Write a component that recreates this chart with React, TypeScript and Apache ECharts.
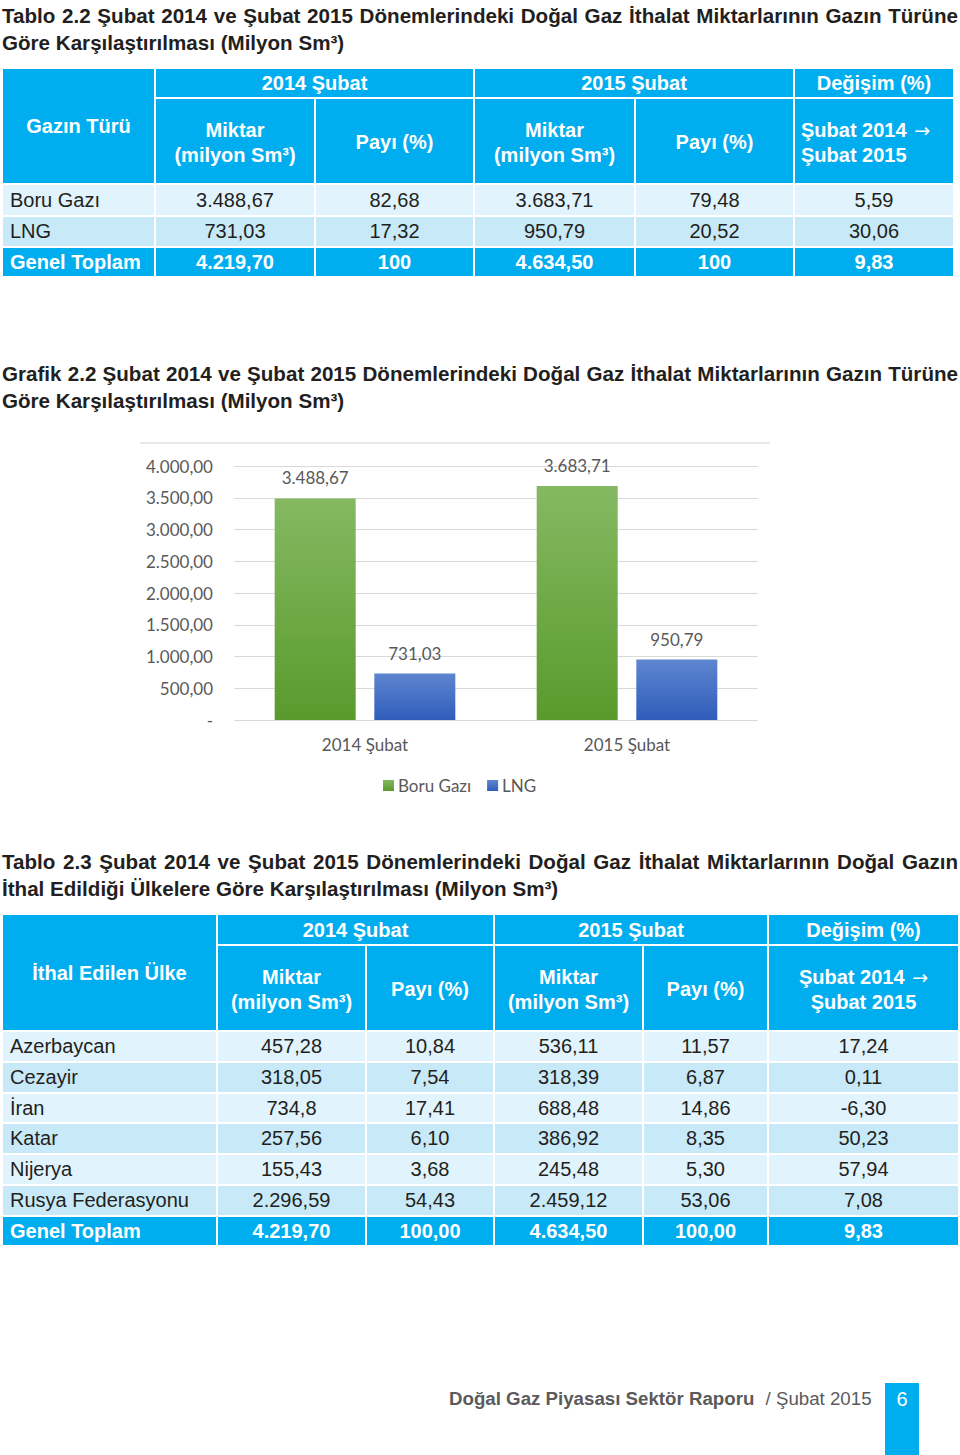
import React, { useEffect, useRef } from "react";
import * as echarts from "echarts";

// ---------- Chart data ----------
const categories = ["2014 Şubat", "2015 Şubat"];
const seriesNames = ["Boru Gazı", "LNG"];
const boruGazi = [3488.67, 3683.71];
const lngValues = [731.03, 950.79];
const yMin = 0;
const yMax = 4000;
const yInterval = 500;

// ---------- Table 2.2 data ----------
const t22Types = ["Boru Gazı", "LNG", "Genel Toplam"];
const t22Miktar2014 = ["3.488,67", "731,03", "4.219,70"];
const t22Pay2014 = ["82,68", "17,32", "100"];
const t22Miktar2015 = ["3.683,71", "950,79", "4.634,50"];
const t22Pay2015 = ["79,48", "20,52", "100"];
const t22Degisim = ["5,59", "30,06", "9,83"];

// ---------- Table 2.3 data ----------
const t23Countries = ["Azerbaycan", "Cezayir", "İran", "Katar", "Nijerya", "Rusya Federasyonu", "Genel Toplam"];
const t23Miktar2014 = ["457,28", "318,05", "734,8", "257,56", "155,43", "2.296,59", "4.219,70"];
const t23Pay2014 = ["10,84", "7,54", "17,41", "6,10", "3,68", "54,43", "100,00"];
const t23Miktar2015 = ["536,11", "318,39", "688,48", "386,92", "245,48", "2.459,12", "4.634,50"];
const t23Pay2015 = ["11,57", "6,87", "14,86", "8,35", "5,30", "53,06", "100,00"];
const t23Degisim = ["17,24", "0,11", "-6,30", "50,23", "57,94", "7,08", "9,83"];

const BLUE = "#00AEEF";
const LIGHT = "#E1F3FC";
const MID = "#C8E9F8";
const TXT = "#231F20";
const FONT = "'Liberation Sans', Arial, sans-serif";

function fmtNum(v: number): string {
  const s = v.toFixed(2);
  const [i, d] = s.split(".");
  const neg = i.startsWith("-");
  const digits = neg ? i.slice(1) : i;
  let out = "";
  for (let k = 0; k < digits.length; k++) {
    const fromEnd = digits.length - k;
    out += digits[k];
    if (fromEnd > 1 && (fromEnd - 1) % 3 === 0) out += ".";
  }
  return (neg ? "-" : "") + out + "," + d;
}

type CellProps = {
  x1: number; x2: number; y1: number; y2: number;
  bg: string; color?: string; bold?: boolean; align?: "left" | "center";
  pad?: number; size?: number; padTop?: number; children?: React.ReactNode;
};

function Cell({ x1, x2, y1, y2, bg, color = TXT, bold = false, align = "center", pad = 0, size = 20, padTop = 0, children }: CellProps) {
  return (
    <div
      style={{
        position: "absolute",
        left: x1,
        top: y1,
        width: x2 - x1,
        height: y2 - y1,
        background: bg,
        color,
        fontWeight: bold ? "bold" : "normal",
        fontSize: size,
        lineHeight: "25px",
        display: "flex",
        alignItems: "center",
        justifyContent: align === "left" ? "flex-start" : "center",
        textAlign: align,
        paddingLeft: pad,
        paddingTop: padTop,
        boxSizing: "border-box",
        whiteSpace: "nowrap",
        fontFamily: FONT,
      }}
    >
      <div>{children}</div>
    </div>
  );
}

type TableSpec = {
  cols: [number, number][];
  h1: [number, number];
  h2: [number, number];
  rows: [number, number][];
  firstHeader: string;
  labels: string[];
  cols5: string[][];
  lastHeaderLeft: boolean;
  firstPad: number;
};

const Arrow = () => (
  <span style={{ fontFamily: "'DejaVu Sans', sans-serif", fontWeight: "normal", fontSize: 19, marginLeft: 2 }}>→</span>
);

function Table({ cols, h1, h2, rows, firstHeader, labels, cols5, lastHeaderLeft, firstPad }: TableSpec) {
  const cells: React.ReactNode[] = [];
  const W = "#fff";
  cells.push(
    <Cell key="fh" x1={cols[0][0]} x2={cols[0][1]} y1={h1[0]} y2={h2[1]} bg={BLUE} color={W} bold padTop={1}>
      {firstHeader}
    </Cell>
  );
  cells.push(<Cell key="g1" x1={cols[1][0]} x2={cols[2][1]} y1={h1[0]} y2={h1[1]} bg={BLUE} color={W} bold padTop={1}>2014 Şubat</Cell>);
  cells.push(<Cell key="g2" x1={cols[3][0]} x2={cols[4][1]} y1={h1[0]} y2={h1[1]} bg={BLUE} color={W} bold padTop={1}>2015 Şubat</Cell>);
  cells.push(<Cell key="g3" x1={cols[5][0]} x2={cols[5][1]} y1={h1[0]} y2={h1[1]} bg={BLUE} color={W} bold padTop={1}>Değişim (%)</Cell>);
  const sub = ["Miktar\n(milyon Sm³)", "Payı (%)", "Miktar\n(milyon Sm³)", "Payı (%)"];
  sub.forEach((t, i) => {
    cells.push(
      <Cell key={"s" + i} x1={cols[i + 1][0]} x2={cols[i + 1][1]} y1={h2[0]} y2={h2[1]} bg={BLUE} color={W} bold padTop={3}>
        {t.split("\n").map((l, j) => <div key={j}>{l}</div>)}
      </Cell>
    );
  });
  cells.push(
    <Cell key="s5" x1={cols[5][0]} x2={cols[5][1]} y1={h2[0]} y2={h2[1]} bg={BLUE} color={W} bold padTop={3}
      align={lastHeaderLeft ? "left" : "center"} pad={lastHeaderLeft ? 6 : 0}>
      <div style={{ textAlign: lastHeaderLeft ? "left" : "center" }}>
        <div>Şubat 2014 <Arrow /></div>
        <div>Şubat 2015</div>
      </div>
    </Cell>
  );
  rows.forEach((r, ri) => {
    const isTotal = ri === rows.length - 1;
    const bg = isTotal ? BLUE : ri % 2 === 0 ? LIGHT : MID;
    const color = isTotal ? "#fff" : TXT;
    cells.push(
      <Cell key={"r" + ri + "c0"} x1={cols[0][0]} x2={cols[0][1]} y1={r[0]} y2={r[1]} bg={bg} color={color} bold={isTotal} align="left" pad={firstPad}>
        {labels[ri]}
      </Cell>
    );
    cols5.forEach((col, ci) => {
      cells.push(
        <Cell key={"r" + ri + "c" + (ci + 1)} x1={cols[ci + 1][0]} x2={cols[ci + 1][1]} y1={r[0]} y2={r[1]} bg={bg} color={color} bold={isTotal}>
          {col[ri]}
        </Cell>
      );
    });
  });
  return <>{cells}</>;
}

function Title({ top, lines }: { top: number; lines: string[] }) {
  return (
    <div
      style={{
        position: "absolute",
        left: 2,
        top,
        width: 956,
        fontFamily: FONT,
        fontWeight: "bold",
        fontSize: 20.6,
        lineHeight: "27px",
        color: TXT,
        whiteSpace: "nowrap",
      }}
    >
      {lines.map((l, i) => (
        <div key={i} style={i === 0 ? { textAlign: "justify", textAlignLast: "justify", whiteSpace: "normal" } : undefined}>
          {l}
        </div>
      ))}
    </div>
  );
}

function Chart() {
  const ref = useRef<HTMLDivElement>(null);
  useEffect(() => {
    if (!ref.current) return;
    const chart = echarts.init(ref.current, undefined, { renderer: "svg" });
    const labelColor = "#595959";
    const green = new echarts.graphic.LinearGradient(0, 0, 0, 1, [
      { offset: 0, color: "#84B962" },
      { offset: 1, color: "#5A9A2C" },
    ]);
    const blue = new echarts.graphic.LinearGradient(0, 0, 0, 1, [
      { offset: 0, color: "#5E85D0" },
      { offset: 1, color: "#2F5DBA" },
    ]);
    const fs = 17;
    chart.setOption({
      animation: false,
      textStyle: { fontFamily: "Lato" },
      grid: { left: 94, right: 12, top: 26, bottom: 90 },
      legend: {
        data: seriesNames,
        top: 332,
        left: 238,
        icon: "rect",
        itemWidth: 11,
        itemHeight: 11,
        itemGap: 16,
        textStyle: { color: labelColor, fontSize: fs, fontFamily: "Lato", padding: [0, 0, 0, -1] },
      },
      xAxis: {
        type: "category",
        data: categories,
        axisLine: { show: false },
        axisTick: { show: false },
        axisLabel: { color: labelColor, fontSize: fs, margin: 16, fontFamily: "Lato" },
      },
      yAxis: {
        type: "value",
        min: yMin,
        max: yMax,
        interval: yInterval,
        axisLine: { show: false },
        axisTick: { show: false },
        axisLabel: {
          color: labelColor,
          fontSize: fs,
          margin: 21,
          fontFamily: "Lato",
          formatter: (v: number) => (v === 0 ? "-" : fmtNum(v)),
        },
        splitLine: { lineStyle: { color: "#D9D9D9", width: 1 } },
      },
      series: [
        {
          name: seriesNames[0],
          type: "bar",
          data: boruGazi,
          barWidth: 81,
          barGap: "23%",
          itemStyle: { color: green },
          label: {
            show: true,
            position: "top",
            distance: 12,
            color: labelColor,
            fontSize: fs,
            fontFamily: "Lato",
            formatter: (p: any) => fmtNum(p.value),
          },
        },
        {
          name: seriesNames[1],
          type: "bar",
          data: lngValues,
          barWidth: 81,
          itemStyle: { color: blue },
          label: {
            show: true,
            position: "top",
            distance: 12,
            color: labelColor,
            fontSize: fs,
            fontFamily: "Lato",
            formatter: (p: any) => fmtNum(p.value),
          },
        },
      ],
      graphic: [
        {
          type: "line",
          shape: { x1: 0, y1: 3, x2: 630, y2: 3 },
          style: { stroke: "#E8E8E8", lineWidth: 2 },
        },
      ],
    });
    return () => chart.dispose();
  }, []);
  return <div ref={ref} style={{ position: "absolute", left: 140, top: 440, width: 630, height: 370 }} />;
}

export default function App() {
  const t22Rows: [number, number][] = [[185, 215], [217, 246], [248, 276]];
  const t23Rows: [number, number][] = [];
  for (let i = 0; i < 7; i++) {
    const s = Math.round(1032 + i * 30.75);
    t23Rows.push([s, Math.round(1032 + (i + 1) * 30.75) - 2]);
  }
  return (
    <div style={{ position: "absolute", left: 0, top: 0, width: 960, height: 1455, background: "#fff", overflow: "hidden", fontFamily: FONT }}>
      <Title top={1.5} lines={[
        "Tablo 2.2 Şubat 2014 ve Şubat 2015 Dönemlerindeki Doğal Gaz İthalat Miktarlarının Gazın Türüne",
        "Göre Karşılaştırılması (Milyon Sm³)",
      ]} />
      <Table
        cols={[[3, 154], [156, 314], [316, 473], [475, 634], [636, 793], [795, 953]]}
        h1={[69, 97]}
        h2={[99, 183]}
        rows={t22Rows}
        firstHeader="Gazın Türü"
        labels={t22Types}
        cols5={[t22Miktar2014, t22Pay2014, t22Miktar2015, t22Pay2015, t22Degisim]}
        lastHeaderLeft={true}
        firstPad={7}
      />
      <Title top={359.5} lines={[
        "Grafik 2.2 Şubat 2014 ve Şubat 2015 Dönemlerindeki Doğal Gaz İthalat Miktarlarının Gazın Türüne",
        "Göre Karşılaştırılması (Milyon Sm³)",
      ]} />
      <Chart />
      <Title top={847.5} lines={[
        "Tablo 2.3 Şubat 2014 ve Şubat 2015 Dönemlerindeki Doğal Gaz İthalat Miktarlarının Doğal Gazın",
        "İthal Edildiği Ülkelere Göre Karşılaştırılması (Milyon Sm³)",
      ]} />
      <Table
        cols={[[3, 216], [218, 365], [367, 493], [495, 642], [644, 767], [769, 958]]}
        h1={[915, 944]}
        h2={[946, 1030]}
        rows={t23Rows}
        firstHeader="İthal Edilen Ülke"
        labels={t23Countries}
        cols5={[t23Miktar2014, t23Pay2014, t23Miktar2015, t23Pay2015, t23Degisim]}
        lastHeaderLeft={false}
        firstPad={7}
      />
      <div style={{ position: "absolute", left: 449, top: 1387, fontFamily: FONT, fontSize: 18.7, color: "#5A5A5C", whiteSpace: "nowrap", lineHeight: "24px" }}>
        <span style={{ fontWeight: "bold" }}>Doğal Gaz Piyasası Sektör Raporu</span>
        <span style={{ marginLeft: 6 }}>&nbsp;/ Şubat 2015</span>
      </div>
      <div style={{ position: "absolute", left: 885, top: 1383, width: 34, height: 72, background: BLUE }} />
      <div style={{ position: "absolute", left: 885, top: 1387, width: 34, textAlign: "center", fontFamily: FONT, fontSize: 20, color: "#fff", lineHeight: "24px" }}>6</div>
    </div>
  );
}
